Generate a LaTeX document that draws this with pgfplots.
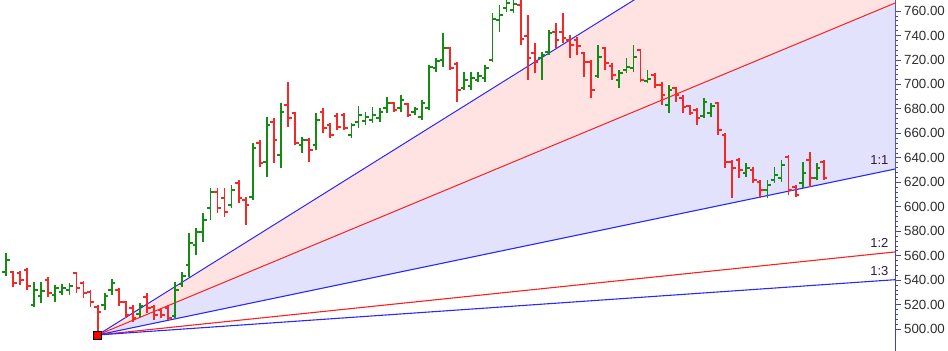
\documentclass[border=0pt]{standalone}
\usepackage{pgfplots}
\pgfplotsset{compat=1.18}
\usepackage{pgfplotstable}
\usepackage{fontspec}
\setmainfont{Liberation Sans}
\definecolor{upg}{RGB}{20,140,20}
\definecolor{dnr}{RGB}{245,40,40}
\definecolor{fanblue}{RGB}{40,40,255}
\definecolor{fanred}{RGB}{255,30,30}
\definecolor{pinkfill}{RGB}{255,226,226}
\definecolor{bluefill}{RGB}{226,226,252}
\definecolor{axcol}{RGB}{70,70,160}
\definecolor{lblgray}{RGB}{45,45,45}
\definecolor{ratiocol}{RGB}{55,20,65}

\pgfplotstableread{
x o h l c
0 546.6 562.1 543.3 556.4
1 546.6 547.4 534.3 537.6
2 545.8 547.4 536.0 540.0
3 548.2 549.9 531.9 535.1
4 519.6 538.4 517.9 531.9
5 527.0 538.4 521.2 531.0
6 540.0 542.5 526.1 529.4
7 527.8 536.0 522.1 533.5
8 530.2 536.8 527.8 533.5
9 531.9 537.6 527.8 535.1
10 545.8 546.6 529.4 533.5
11 537.6 539.2 525.3 529.4
12 530.2 531.9 517.9 522.1
13 517.9 519.6 495.1 513.9
14 519.6 529.4 515.5 527.0
15 531.9 540.9 527.8 537.6
16 531.9 533.5 518.8 522.1
17 522.1 522.9 509.0 511.4
18 517.1 519.6 505.7 509.0
19 512.2 521.2 509.8 518.8
20 526.1 529.4 513.1 517.1
21 517.9 519.6 507.3 511.4
22 515.5 517.1 509.0 511.4
23 517.1 519.6 507.3 509.0
24 510.6 538.4 509.0 531.9
25 536.8 546.6 534.3 543.3
26 552.3 578.5 542.5 570.3
27 568.7 582.6 560.5 579.3
28 579.3 594.8 571.1 589.1
29 598.9 615.3 589.1 612.0
30 612.0 615.3 594.8 598.9
31 607.1 615.3 591.6 595.6
32 601.4 617.7 598.9 613.6
33 619.4 621.8 603.0 607.1
34 605.5 607.9 585.0 601.4
35 607.9 652.1 605.5 648.0
36 652.1 654.5 632.4 635.7
37 636.5 673.3 624.3 666.8
38 669.2 672.5 635.7 654.5
39 642.3 684.8 631.6 677.4
40 683.1 702.0 665.2 672.5
41 676.6 677.4 650.4 652.1
42 650.4 657.0 643.9 654.5
43 654.5 656.2 636.5 646.3
44 650.4 676.6 646.3 670.9
45 677.4 680.7 660.2 664.3
46 666.8 668.4 656.2 658.6
47 674.1 676.6 662.7 665.2
48 675.0 676.6 662.7 664.3
49 658.6 668.4 656.2 666.8
50 669.2 682.3 664.3 675.0
51 670.1 677.4 666.8 673.3
52 670.9 681.5 668.4 675.0
53 672.5 680.7 669.2 677.4
54 680.7 689.7 676.6 684.8
55 684.8 685.6 677.4 679.1
56 680.7 691.3 677.4 687.2
57 684.0 684.8 673.3 675.0
58 677.4 681.5 675.0 679.9
59 673.3 687.2 670.9 684.8
60 680.7 715.8 679.1 714.2
61 713.4 721.6 710.1 719.1
62 719.9 742.0 714.2 729.7
63 729.7 730.6 711.8 713.4
64 716.7 718.3 685.6 695.4
65 697.0 710.1 695.4 703.6
66 698.7 710.1 695.4 705.2
67 703.6 710.1 702.0 706.9
68 705.2 715.8 702.0 713.4
69 719.9 758.4 718.3 753.5
70 752.6 764.9 742.8 756.7
71 762.5 772.0 759.2 766.5
72 760.8 772.0 758.4 765.7
73 764.9 772.0 732.2 737.1
74 739.6 756.7 703.6 721.6
75 725.7 733.8 709.3 718.3
76 721.6 726.5 703.6 724.0
77 726.5 744.5 724.0 742.0
78 742.8 750.2 729.7 736.3
79 742.8 758.4 733.8 737.9
80 736.3 740.4 721.6 732.2
81 736.3 738.7 724.0 731.4
82 725.7 726.5 706.0 718.3
83 718.3 719.9 688.9 695.4
84 706.9 732.2 705.2 722.4
85 729.7 730.6 711.8 717.5
86 715.0 717.5 703.6 707.7
87 703.6 711.8 697.0 709.3
88 711.8 721.6 709.3 714.2
89 713.4 732.2 710.1 722.4
90 728.1 728.1 702.0 703.6
91 702.8 711.8 701.1 704.4
92 707.7 709.3 697.0 699.5
93 699.5 702.0 683.1 691.3
94 683.1 699.5 676.6 695.4
95 697.0 697.9 685.6 691.3
96 688.9 691.3 676.6 681.5
97 682.3 683.1 675.0 676.6
98 679.1 680.7 666.8 672.5
99 674.1 688.9 672.5 685.6
100 676.6 684.8 673.3 682.3
101 684.8 685.6 658.6 662.7
102 658.6 660.2 631.6 636.5
103 636.5 638.2 607.1 631.6
104 638.2 639.8 623.4 630.0
105 627.5 635.7 624.3 631.6
106 630.0 632.4 619.4 621.8
107 620.2 621.8 607.1 613.6
108 613.6 621.8 607.1 617.7
109 621.8 632.4 619.4 625.9
110 623.4 638.2 620.2 634.1
111 640.6 642.3 609.5 613.6
112 616.1 617.7 607.9 609.5
113 619.4 636.5 615.3 627.5
114 638.2 644.7 616.1 623.4
115 623.4 635.7 621.8 631.6
116 636.5 638.2 621.8 623.4
}\ohlc

\begin{document}
\begin{tikzpicture}
\begin{axis}[
  name=ax,
  width=895bp, height=351bp, scale only axis,
  xmin=-0.85, xmax=126.1, ymin=482, ymax=769,
  axis x line=none, axis y line*=right,
  axis line style={-, draw=axcol, line width=0.9bp},
  tick align=outside,
  ytick={500,520,...,760}, minor y tick num=4,
  major tick length=6bp, minor tick length=3bp,
  every major y tick/.style={draw=axcol, line width=0.7bp},
  every minor y tick/.style={draw=axcol, line width=0.6bp},
  yticklabel style={font=\fontsize{13.3bp}{15bp}\selectfont, text=lblgray, inner sep=0pt, xshift=3bp},
  /pgf/number format/.cd, fixed, fixed zerofill, precision=2, 1000 sep={}, assume math mode=true,
]
% fan shading
\addplot[fill=pinkfill, draw=none] coordinates {(13,495.1) (126.1,902.3) (126.1,766.5)} -- cycle;
\addplot[fill=bluefill, draw=none] coordinates {(13,495.1) (126.1,766.5) (126.1,630.8)} -- cycle;
% fan lines
\addplot[fanblue, line width=1bp] coordinates {(13,495.1) (126.1,902.3)};
\addplot[fanred, line width=1bp] coordinates {(13,495.1) (126.1,766.5)};
\addplot[fanblue, line width=1.1bp] coordinates {(13,495.1) (126.1,630.8)};
\addplot[fanred, line width=1.1bp] coordinates {(13,495.1) (126.1,563.0)};
\addplot[fanblue, line width=1.1bp] coordinates {(13,495.1) (126.1,540.3)};
% up bars
\addplot[upg, line width=1.8bp, quiver={u=0, v=\thisrow{h}-\thisrow{l}},
  restrict expr to domain={\thisrow{c}-\thisrow{o}}{0:1000}] table[x=x, y=l] {\ohlc};
\addplot[upg, line width=1.6bp, quiver={u=-0.5, v=0},
  restrict expr to domain={\thisrow{c}-\thisrow{o}}{0:1000}] table[x=x, y=o] {\ohlc};
\addplot[upg, line width=1.6bp, quiver={u=0.5, v=0},
  restrict expr to domain={\thisrow{c}-\thisrow{o}}{0:1000}] table[x=x, y=c] {\ohlc};
% down bars
\addplot[dnr, line width=1.8bp, quiver={u=0, v=\thisrow{h}-\thisrow{l}},
  restrict expr to domain={\thisrow{c}-\thisrow{o}}{-1000:-0.01}] table[x=x, y=l] {\ohlc};
\addplot[dnr, line width=1.6bp, quiver={u=-0.5, v=0},
  restrict expr to domain={\thisrow{c}-\thisrow{o}}{-1000:-0.01}] table[x=x, y=o] {\ohlc};
\addplot[dnr, line width=1.6bp, quiver={u=0.5, v=0},
  restrict expr to domain={\thisrow{c}-\thisrow{o}}{-1000:-0.01}] table[x=x, y=c] {\ohlc};
% anchor point
\addplot[only marks, mark=square*, mark size=4bp, mark options={fill=red, draw=black, line width=0.8bp}] coordinates {(13,495.1)};
% ratio labels
\node[anchor=east, text=ratiocol, font=\fontsize{13bp}{15bp}\selectfont, inner sep=0pt] at (axis cs:125.2,638.2) {1:1};
\node[anchor=east, text=ratiocol, font=\fontsize{13bp}{15bp}\selectfont, inner sep=0pt] at (axis cs:125.2,570.3) {1:2};
\node[anchor=east, text=ratiocol, font=\fontsize{13bp}{15bp}\selectfont, inner sep=0pt] at (axis cs:125.2,547.4) {1:3};
\end{axis}
\pgfresetboundingbox
\path[use as bounding box] (ax.south west) rectangle ([xshift=53bp]ax.north east);
\end{tikzpicture}
\end{document}
